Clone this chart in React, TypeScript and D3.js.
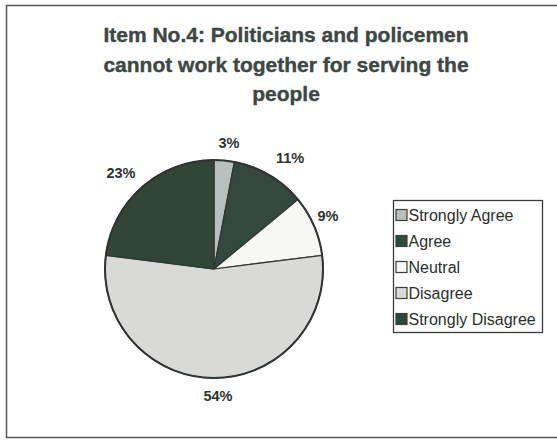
import React from "react";
import * as d3 from "d3";

const categories = ["Strongly Agree", "Agree", "Neutral", "Disagree", "Strongly Disagree"];
const values = [3, 11, 9, 54, 23];
const labels = ["3%", "11%", "9%", "54%", "23%"];
const colors = ["#b9bfbc", "#34483f", "#f7f7f5", "#d9dad8", "#314539"];
const titleLines = [
  "Item No.4: Politicians and policemen",
  "cannot work together for serving the",
  "people",
];
const labelPos = [
  [229, 143],
  [290, 158],
  [328, 216],
  [218, 396],
  [121, 173],
];

export default function App() {
  const W = 557;
  const H = 441;
  const cx = 214;
  const cy = 269;
  const r = 109;
  const pie = d3.pie<number>().sort(null).value((d) => d)(values);
  const arc = d3.arc<d3.PieArcDatum<number>>().innerRadius(0).outerRadius(r);
  const font = "'Liberation Sans', Arial, sans-serif";
  return (
    <svg
      width={W}
      height={H}
      style={{ position: "absolute", left: 0, top: 0, background: "#fff" }}
    >
      <rect x={0} y={0} width={W} height={H} fill="#fff" />
      <rect x={6.5} y={5.5} width={560} height={432} fill="none" stroke="#555" strokeWidth={1.5} />
      {titleLines.map((t, i) => (
        <text
          key={i}
          x={286}
          y={42 + i * 29.5}
          textAnchor="middle"
          fontFamily={font}
          fontWeight="bold"
          fontSize={21}
          fill="#3d4743"
          stroke="#3d4743"
          strokeWidth={0.4}
        >
          {t}
        </text>
      ))}
      <g transform={`translate(${cx},${cy})`}>
        {pie.map((p, i) => (
          <path key={i} d={arc(p) || ""} fill={colors[i]} stroke="#2e3431" strokeWidth={1.2} />
        ))}
        <circle r={r} fill="none" stroke="#2e3431" strokeWidth={2} />
      </g>
      {labels.map((l, i) => (
        <text
          key={i}
          x={labelPos[i][0]}
          y={labelPos[i][1]}
          textAnchor="middle"
          dominantBaseline="central"
          fontFamily={font}
          fontWeight="bold"
          fontSize={14.5}
          fill="#2e3431"
        >
          {l}
        </text>
      ))}
      <rect x={393.5} y={200.5} width={149} height={132} fill="#fff" stroke="#3a3a3a" strokeWidth={1.3} />
      {categories.map((c, i) => (
        <g key={i} transform={`translate(396,${215 + i * 26})`}>
          <rect x={0} y={-5.5} width={11} height={11} fill={colors[i]} stroke="#3a3f3c" strokeWidth={1.2} />
          <text
            x={12.5}
            y={0.5}
            dominantBaseline="central"
            fontFamily={font}
            fontSize={16}
            fill="#2a2f2c"
          >
            {c}
          </text>
        </g>
      ))}
    </svg>
  );
}
